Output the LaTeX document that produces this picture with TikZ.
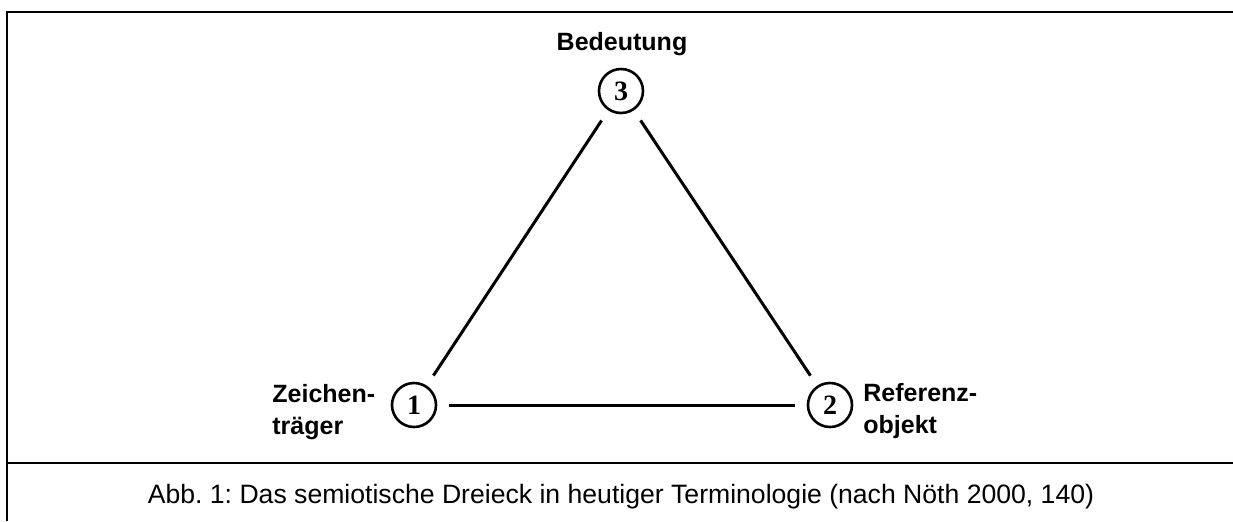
\documentclass[tikz,border=0pt]{standalone}
\usepackage{fontspec}
\setmainfont{Liberation Sans}
\newfontfamily\numfont{Liberation Serif}
\frenchspacing
\begin{document}
\begin{tikzpicture}[x=0.5pt,y=-0.5pt,
  lbl/.style={font=\fontsize{12.5}{16}\selectfont\bfseries, inner sep=0pt, align=left},
  num/.style={circle, draw, line width=1.3pt, minimum size=22pt, inner sep=0pt, font=\numfont\fontsize{14}{14}\selectfont\bfseries},
  edge/.style={line width=1.5pt, shorten <=6pt, shorten >=6pt},
  frame/.style={line width=1.1pt}]
\useasboundingbox (0,0) rectangle (1233,521);
% frame
\coordinate (tl) at (7,12);
\coordinate (tr) at (1233,12);
\coordinate (bl) at (7,521);
\coordinate (sl) at (7,463);
\coordinate (sr) at (1233,463);
\draw[frame] (bl) -- (tl) -- (tr);
\draw[frame] (sl) -- (sr);
% circles
\node[num] (c3) at (621,91) {3};
\node[num] (c1) at (414,405) {1};
\node[num] (c2) at (830,405) {2};
\draw[edge] (c3) -- (c1);
\draw[edge] (c3) -- (c2);
\draw[edge] (c1) -- (c2);
% labels
\node[lbl, anchor=base] (bed) at (622,50) {Bedeutung};
\node[lbl, anchor=base west] (zt) at (272,434) {Zeichen-\\träger};
\node[lbl, anchor=base west] (ro) at (863,433) {Referenz-\\objekt};
% caption
\node[font=\fontsize{13.3}{16}\selectfont, inner sep=0pt, anchor=base] (cap) at (621,503) {Abb. 1: Das semiotische Dreieck in heutiger Terminologie (nach Nöth 2000, 140)};
\end{tikzpicture}
\end{document}
